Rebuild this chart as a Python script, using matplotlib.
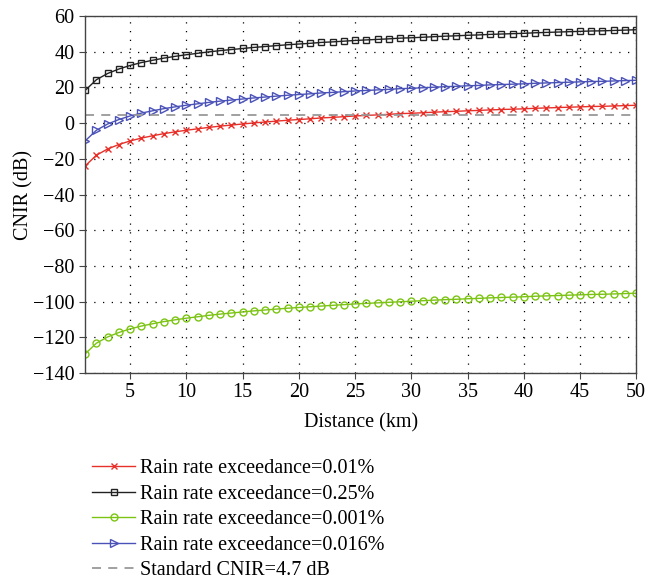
import matplotlib.pyplot as plt

plt.rcParams['font.family'] = ['Liberation Serif', 'DejaVu Serif']

# distance in km
distance = list(range(1, 51))

# CNIR (dB)
cnir_001 = [-24.0, -18.0, -14.5, -12.0, -10.0, -8.4, -7.1, -5.9, -4.9, -4.0,
            -3.2, -2.4, -1.7, -1.1, -0.5, 0.1, 0.6, 1.1, 1.6, 2.0,
            2.4, 2.9, 3.2, 3.6, 4.0, 4.3, 4.6, 4.9, 5.3, 5.5,
            5.8, 6.1, 6.4, 6.6, 6.9, 7.1, 7.4, 7.6, 7.8, 8.0,
            8.3, 8.5, 8.7, 8.9, 9.1, 9.3, 9.4, 9.6, 9.8, 10.0]
cnir_025 = [18.3, 24.3, 27.8, 30.3, 32.3, 33.9, 35.2, 36.4, 37.4, 38.3,
            39.1, 39.9, 40.6, 41.2, 41.8, 42.4, 42.9, 43.4, 43.9, 44.3,
            44.7, 45.2, 45.5, 45.9, 46.3, 46.6, 46.9, 47.2, 47.6, 47.8,
            48.1, 48.4, 48.7, 48.9, 49.2, 49.4, 49.7, 49.9, 50.1, 50.3,
            50.6, 50.8, 51.0, 51.2, 51.4, 51.6, 51.7, 51.9, 52.1, 52.3]
cnir_0001 = [-129.3, -123.3, -119.8, -117.3, -115.3, -113.7, -112.4, -111.2, -110.2, -109.3,
             -108.5, -107.7, -107.0, -106.4, -105.8, -105.2, -104.7, -104.2, -103.7, -103.3,
             -102.9, -102.5, -102.1, -101.7, -101.3, -101.0, -100.7, -100.4, -100.1, -99.8,
             -99.5, -99.2, -98.9, -98.7, -98.4, -98.2, -97.9, -97.7, -97.5, -97.3,
             -97.0, -96.8, -96.6, -96.4, -96.2, -96.0, -95.9, -95.7, -95.5, -95.3]
cnir_0016 = [-10.0, -4.0, -0.5, 2.0, 4.0, 5.6, 6.9, 8.1, 9.1, 10.0,
             10.8, 11.6, 12.3, 12.9, 13.5, 14.1, 14.6, 15.1, 15.6, 16.0,
             16.4, 16.9, 17.2, 17.6, 18.0, 18.3, 18.6, 18.9, 19.3, 19.5,
             19.8, 20.1, 20.4, 20.6, 20.9, 21.1, 21.4, 21.6, 21.8, 22.0,
             22.3, 22.5, 22.7, 22.9, 23.1, 23.3, 23.4, 23.6, 23.8, 24.0]
standard_cnir = 4.7

labels = ['Rain rate exceedance=0.01%', 'Rain rate exceedance=0.25%',
          'Rain rate exceedance=0.001%', 'Rain rate exceedance=0.016%',
          'Standard CNIR=4.7 dB']

fs = 14.5

fig = plt.figure(figsize=(6.6, 5.84), dpi=100)
ax = fig.add_axes([0.129, 0.3613, 0.835, 0.6113])

ax.plot(distance, cnir_001, color='#e8302a', marker='x', ms=4, mew=1.0, lw=1.0, label=labels[0])
ax.plot(distance, cnir_025, color='#222222', marker='s', ms=4.5, mfc='none', mew=1.0, lw=1.0, label=labels[1])
ax.plot(distance, cnir_0001, color='#7cc414', marker='o', ms=5, mfc='none', mew=1.0, lw=1.0, label=labels[2])
ax.plot(distance, cnir_0016, color='#4a52b8', marker='>', ms=5.5, mfc='none', mew=1.0, lw=1.0, label=labels[3])
ax.axhline(standard_cnir, color='#999999', ls=(0, (5, 4)), lw=1.3, label=labels[4])

ax.set_xlim(1, 50)
ax.set_ylim(-140, 60)
ax.set_xticks(range(5, 51, 5))
ax.set_yticks(range(-140, 61, 20))
ax.set_yticklabels([str(v).replace('-', '\u2212') for v in range(-140, 61, 20)])
ax.grid(True, color='black', ls=(0, (1, 6)), lw=0.9)
ax.tick_params(labelsize=fs, direction='out', length=4, color='#444444')
for sp in ax.spines.values():
    sp.set_color('#444444')
    sp.set_linewidth(1.0)

ax.set_xlabel('Distance (km)', fontsize=fs, labelpad=8)
ax.set_ylabel('CNIR (dB)', fontsize=fs, labelpad=0)

ax.legend(loc='upper left', bbox_to_anchor=(0.14, 0.214), bbox_transform=fig.transFigure,
          frameon=False, fontsize=fs, handlelength=2.1, handletextpad=0.25,
          labelspacing=0.32, borderaxespad=0, borderpad=0)

fig.savefig('out.png', dpi=100)
